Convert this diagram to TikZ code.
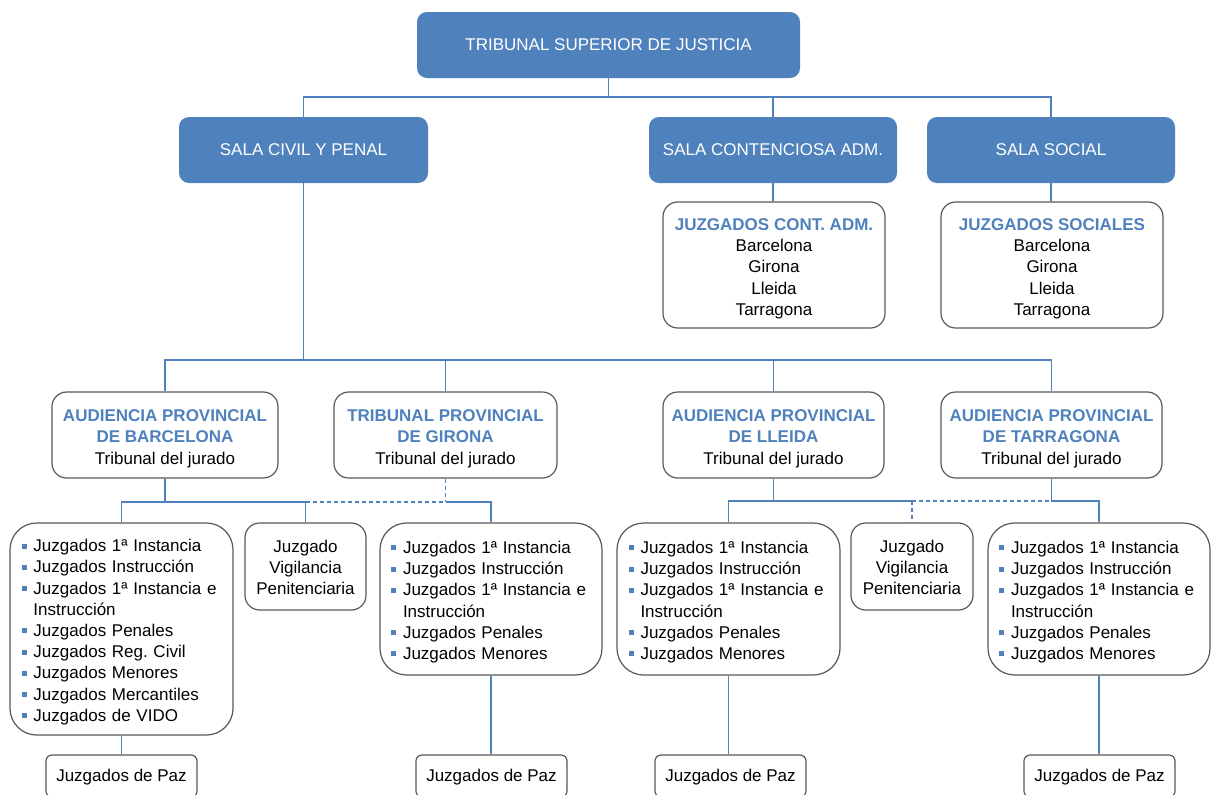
\documentclass[tikz,border=0pt]{standalone}
\usepackage{fontspec}
\setmainfont{Liberation Sans}
\frenchspacing
\definecolor{tb}{HTML}{4F81BD}
\definecolor{bd}{HTML}{595959}
\definecolor{bul}{HTML}{4F81BD}
\newcommand\hd[1]{\textbf{\textcolor{tb}{#1}}}
\newcommand\bl{\makebox[9pt][l]{\textcolor{bul}{\rule[2.25pt]{3.75pt}{3.75pt}}}}
\newcommand\ind{\hspace*{9pt}}
\newcommand\jl[1]{\makebox[139pt][s]{#1}}
\newcommand\tpa{\rule{0pt}{14.5pt}}
\newcommand\tpv{\rule{0pt}{11pt}}
\newcommand\boxat[7]{\node[#6, minimum width={(#4-#2)*0.75pt}, minimum height={(#5-#3)*0.75pt}] (#1) at ({(#2+#4)/2},{(#3+#5)/2}) {#7};}
\tikzset{
 base/.style={font=\fontsize{12.75}{15.9}\selectfont, inner sep=0pt},
 bluebox/.style={base, fill=tb, text=white, rounded corners=7.5pt},
 wbox/.style={base, draw=bd, line width=0.9pt, fill=white, rounded corners=11pt, align=center},
 lst/.style={wbox, rounded corners=20pt, align=left, text width=150pt,
   execute at begin node={\rule{0pt}{13.8pt}}},
 pazbox/.style={wbox, rounded corners=4.5pt, execute at begin node={\rule{0pt}{11.5pt}}},
 conn/.style={draw=tb, line width=0.8pt},
 dconn/.style={conn, dash pattern=on 3pt off 2.25pt},
}
\begin{document}
\begin{tikzpicture}[x=0.75pt,y=-0.75pt]
\useasboundingbox (0,0) rectangle (1213,794);
% top level
\boxat{tsj}{417}{12}{800}{78}{bluebox}{TRIBUNAL SUPERIOR DE JUSTICIA}
\boxat{scp}{179}{117}{428}{183}{bluebox}{SALA CIVIL Y PENAL}
\boxat{sca}{649}{117}{897}{183}{bluebox}{SALA CONTENCIOSA ADM.}
\boxat{ss}{927}{117}{1175}{183}{bluebox}{SALA SOCIAL}
\boxat{jca}{663}{202}{885}{328}{wbox}{\tpa\hd{JUZGADOS CONT. ADM.}\\Barcelona\\Girona\\Lleida\\Tarragona}
\boxat{jso}{941}{202}{1163}{328}{wbox}{\tpa\hd{JUZGADOS SOCIALES}\\Barcelona\\Girona\\Lleida\\Tarragona}
% audiencias
\boxat{apb}{52}{392}{278}{478}{wbox}{\tpa\hd{AUDIENCIA PROVINCIAL}\\\hd{DE BARCELONA}\\Tribunal del jurado}
\boxat{apg}{334}{392}{557}{478}{wbox}{\tpa\hd{TRIBUNAL PROVINCIAL}\\\hd{DE GIRONA}\\Tribunal del jurado}
\boxat{apl}{663}{392}{884}{478}{wbox}{\tpa\hd{AUDIENCIA PROVINCIAL}\\\hd{DE LLEIDA}\\Tribunal del jurado}
\boxat{apt}{941}{392}{1162}{478}{wbox}{\tpa\hd{AUDIENCIA PROVINCIAL}\\\hd{DE TARRAGONA}\\Tribunal del jurado}
% lists
\boxat{lb}{10}{523}{233}{735}{lst}{\bl Juzgados 1ª Instancia\\\bl Juzgados Instrucción\\\bl\jl{Juzgados 1ª Instancia e}\\\ind Instrucción\\\bl Juzgados Penales\\\bl Juzgados Reg. Civil\\\bl Juzgados Menores\\\bl Juzgados Mercantiles\\\bl Juzgados de VIDO}
\boxat{vig1}{245}{523}{366}{610}{wbox}{\tpv Juzgado\\Vigilancia\\Penitenciaria}
\boxat{lg}{380}{523}{602}{675}{lst}{\bl Juzgados 1ª Instancia\\\bl Juzgados Instrucción\\\bl\jl{Juzgados 1ª Instancia e}\\\ind Instrucción\\\bl Juzgados Penales\\\bl Juzgados Menores}
\boxat{ll}{617}{523}{840}{675}{lst}{\bl Juzgados 1ª Instancia\\\bl Juzgados Instrucción\\\bl\jl{Juzgados 1ª Instancia e}\\\ind Instrucción\\\bl Juzgados Penales\\\bl Juzgados Menores}
\boxat{vig2}{851}{523}{973}{610}{wbox}{\tpv Juzgado\\Vigilancia\\Penitenciaria}
\boxat{lt}{988}{523}{1210}{675}{lst}{\bl Juzgados 1ª Instancia\\\bl Juzgados Instrucción\\\bl\jl{Juzgados 1ª Instancia e}\\\ind Instrucción\\\bl Juzgados Penales\\\bl Juzgados Menores}
% paz
\boxat{paz1}{46}{755}{197}{797}{pazbox}{Juzgados de Paz}
\boxat{paz2}{416}{755}{567}{797}{pazbox}{Juzgados de Paz}
\boxat{paz3}{655}{755}{806}{797}{pazbox}{Juzgados de Paz}
\boxat{paz4}{1024}{755}{1175}{797}{pazbox}{Juzgados de Paz}
% connectors
\coordinate (busT) at (0,97);
\coordinate (busM) at (0,360);
\coordinate (busL) at (0,502);
\coordinate (busR) at (0,501);
\draw[conn] (tsj.south) -- (tsj.south |- busT) -| (scp.north);
\draw[conn] (tsj.south |- busT) -| (sca.north);
\draw[conn] (tsj.south |- busT) -| (ss.north);
\draw[conn] (sca.south) -- (sca.south |- jca.north);
\draw[conn] (ss.south) -- (ss.south |- jso.north);
\draw[conn] (scp.south) -- (scp.south |- busM) -| (apb.north);
\draw[conn] (scp.south |- busM) -| (apg.north);
\draw[conn] (scp.south |- busM) -| (apl.north);
\draw[conn] (scp.south |- busM) -| (apt.north);
% Barcelona / Girona
\draw[conn] (apb.south) -- (apb.south |- busL) -| (lb.north);
\draw[conn] (apb.south |- busL) -| (vig1.north);
\draw[dconn] (vig1.north |- busL) -- (apg.south |- busL);
\draw[dconn] (apg.south) -- (apg.south |- busL);
\draw[conn] (apg.south |- busL) -| (lg.north);
% Lleida / Tarragona
\draw[conn] (apl.south) -- (apl.south |- busR) -| (ll.north);
\draw[conn] (apl.south |- busR) -- (vig2.north |- busR);
\draw[dconn] (vig2.north |- busR) -- (vig2.north);
\draw[dconn] (vig2.north |- busR) -- (apt.south |- busR);
\draw[conn] (apt.south) -- (apt.south |- busR) -| (lt.north);
% paz
\draw[conn] (lb.south) -- (lb.south |- paz1.north);
\draw[conn] (lg.south) -- (lg.south |- paz2.north);
\draw[conn] (ll.south) -- (ll.south |- paz3.north);
\draw[conn] (lt.south) -- (lt.south |- paz4.north);
\end{tikzpicture}
\end{document}
